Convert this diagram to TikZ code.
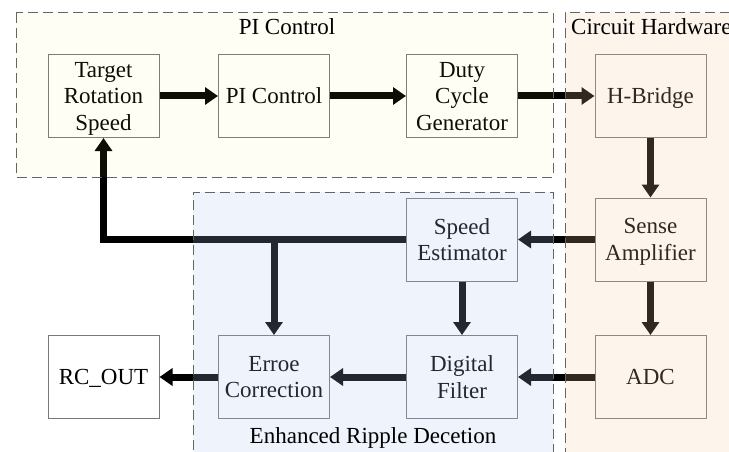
\documentclass[tikz,border=0pt]{standalone}
\usepackage{fontspec}
\setmainfont{Liberation Serif}
\usetikzlibrary{arrows.meta}
\definecolor{boxgray}{RGB}{120,120,120}
\definecolor{dashgray}{RGB}{100,100,100}
\definecolor{yfill}{RGB}{255,238,88}
\definecolor{ofill}{RGB}{245,200,160}
\definecolor{bfill}{RGB}{175,195,240}
\begin{document}
\begin{tikzpicture}[x=1pt,y=-1pt,
  blk/.style={draw=boxgray, fill=white, line width=1pt, minimum width=111pt, minimum height=83pt,
    align=center, inner sep=0pt, text depth=0pt, font=\fontsize{23}{26.5}\selectfont},
  arr/.style={line width=7pt, -{Triangle[length=13pt,width=17pt]}},
  region/.style={draw=dashgray, line width=1pt, dash pattern=on 10pt off 5pt},
  ttl/.style={font=\fontsize{23}{26.7}\selectfont, inner sep=0pt, anchor=base}
]
\clip (0,0) rectangle (729,452);
\fill[white] (0,0) rectangle (729,452);
% boxes
\node[blk] (tgt) at (103.5,96) {Target\\Rotation\\Speed};
\node[blk] (pic) at (274,96) {PI Control};
\node[blk] (dcg) at (462,96) {Duty\\Cycle\\Generator};
\node[blk] (hb)  at (650.5,96) {H-Bridge};
\node[blk] (spd) at (462,239.5) {Speed\\Estimator};
\node[blk] (sns) at (650.5,239.5) {Sense\\Amplifier};
\node[blk] (rco) at (103.5,377) {RC\_OUT};
\node[blk] (err) at (274,377) {Erroe\\Correction};
\node[blk] (dgf) at (462,377) {Digital\\Filter};
\node[blk] (adc) at (650.5,377) {ADC};
% connectors
\draw[arr] (tgt) -- (pic);
\draw[arr] (pic) -- (dcg);
\draw[arr] (dcg) -- (hb);
\draw[arr] (hb) -- (sns);
\draw[arr] (sns) -- (spd);
\draw[arr] (sns) -- (adc);
\draw[arr] (adc) -- (dgf);
\draw[arr] (dgf) -- (err);
\draw[arr] (err) -- (rco);
\draw[arr] (spd) -- (dgf);
\coordinate (fb) at (tgt.south |- spd.west);
\coordinate (br) at (err.north |- spd.west);
\draw[arr] (spd.west) -- (fb) -- (tgt.south);
\draw[arr] (br) -- (err.north);
% region overlays
\fill[yfill, fill opacity=0.06] (16,13) rectangle (553,177);
\fill[ofill, fill opacity=0.2] (565,13) rectangle (760,480);
\fill[bfill, fill opacity=0.2] (193,192) rectangle (553,480);
\draw[region] (16,13) rectangle (553,177);
\draw[region] (760,13) -- (565,13) -- (565,480);
\draw[region] (193,480) -- (193,192) -- (553,192) -- (553,480);
% titles
\node[ttl] (t1) at (287,35) {PI Control};
\node[ttl, anchor=base west] (t2) at (571,35) {Circuit Hardware};
\node[ttl] (t3) at (373,443) {Enhanced Ripple Decetion};
\end{tikzpicture}
\end{document}
